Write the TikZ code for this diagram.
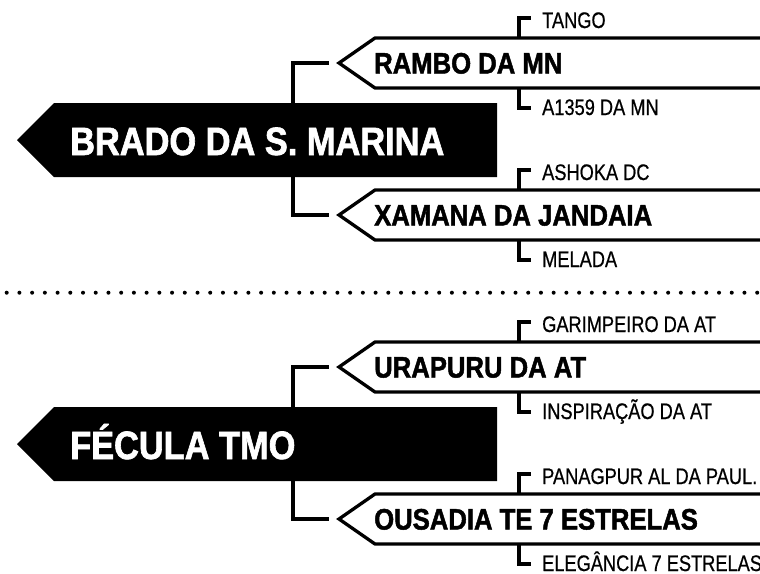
\documentclass[tikz,border=0pt]{standalone}
\usepackage{fontspec}
\newfontfamily\boldcond{Liberation Sans}[FakeStretch=0.87, FakeBold=1.6]
\newfontfamily\smallcond{Liberation Sans}[FakeStretch=0.81, FakeBold=0.6]
\tikzset{
  conn/.style={line width=3.3pt, line join=miter, draw=black},
  mainbox/.style={fill=black},
  subbox/.style={line width=3.3pt, line join=miter, draw=black, fill=white},
  bigtext/.style={anchor=base west, inner sep=0pt, text=white, font=\boldcond\bfseries\fontsize{39.5}{39.5}\selectfont},
  midtext/.style={anchor=base west, inner sep=0pt, text=black, font=\boldcond\bfseries\fontsize{29.5}{29.5}\selectfont},
  smalltext/.style={anchor=base west, inner sep=0pt, text=black, font=\smallcond\fontsize{22.5}{22.5}\selectfont},
  dot/.style={fill=black},
}
% #1 prefix, #2 main centre y, #3 main, #4 sub A, #5 A top, #6 A bottom, #7 sub B, #8 B top, #9 B bottom
\newcommand\mytree[9]{%
  \fill[mainbox] (17,#2) -- (54,#2-37) -- (497,#2-37) -- (497,#2+37) -- (54,#2+37) -- cycle;
  \node[bigtext] (#1main) at (70,#2+15) {#3};
  \coordinate (#1mtop) at (293,#2-37);
  \coordinate (#1mbot) at (293,#2+37);
  % sub A
  \draw[subbox] (790,#2-102) -- (375,#2-102) -- (339,#2-77) -- (375,#2-52) -- (790,#2-52);
  \node[midtext] (#1a) at (374,#2-77+10.5) {#4};
  \coordinate (#1atip) at (329,#2-77);
  \draw[conn] (#1mtop) |- (#1atip);
  \coordinate (#1aup) at (519,#2-102);
  \coordinate (#1aupend) at (531,#2-122);
  \draw[conn] (#1aup) |- (#1aupend);
  \node[smalltext] (#1at) at (542,#2-77-35) {#5};
  \coordinate (#1adn) at (519,#2-52);
  \coordinate (#1adnend) at (531,#2-32);
  \draw[conn] (#1adn) |- (#1adnend);
  \node[smalltext] (#1ab) at (542,#2-77+52) {#6};
  % sub B
  \draw[subbox] (790,#2+50) -- (375,#2+50) -- (339,#2+75) -- (375,#2+100) -- (790,#2+100);
  \node[midtext] (#1b) at (374,#2+75+10.5) {#7};
  \coordinate (#1btip) at (329,#2+75);
  \draw[conn] (#1mbot) |- (#1btip);
  \coordinate (#1bup) at (519,#2+50);
  \coordinate (#1bupend) at (531,#2+30);
  \draw[conn] (#1bup) |- (#1bupend);
  \node[smalltext] (#1bt) at (542,#2+75-35) {#8};
  \coordinate (#1bdn) at (519,#2+100);
  \coordinate (#1bdnend) at (531,#2+120);
  \draw[conn] (#1bdn) |- (#1bdnend);
  \node[smalltext] (#1bb) at (542,#2+75+52) {#9};
}
\begin{document}
\begin{tikzpicture}[x=1pt,y=-1pt]
\clip (0,0) rectangle (760,573);
\fill[white] (0,0) rectangle (760,573);
\mytree{t}{140}{BRADO DA S. MARINA}{RAMBO DA MN}{TANGO}{A1359 DA MN}{XAMANA DA JANDAIA}{ASHOKA DC}{MELADA}
\mytree{b}{444}{FÉCULA TMO}{URAPURU DA AT}{GARIMPEIRO DA AT}{INSPIRAÇÃO DA AT}{OUSADIA TE 7 ESTRELAS}{PANAGPUR AL DA PAUL.}{ELEGÂNCIA 7 ESTRELAS}
\foreach \i in {0,...,59} \fill[dot] (6.7+12.72*\i,292.7) circle (2pt);
\end{tikzpicture}
\end{document}
